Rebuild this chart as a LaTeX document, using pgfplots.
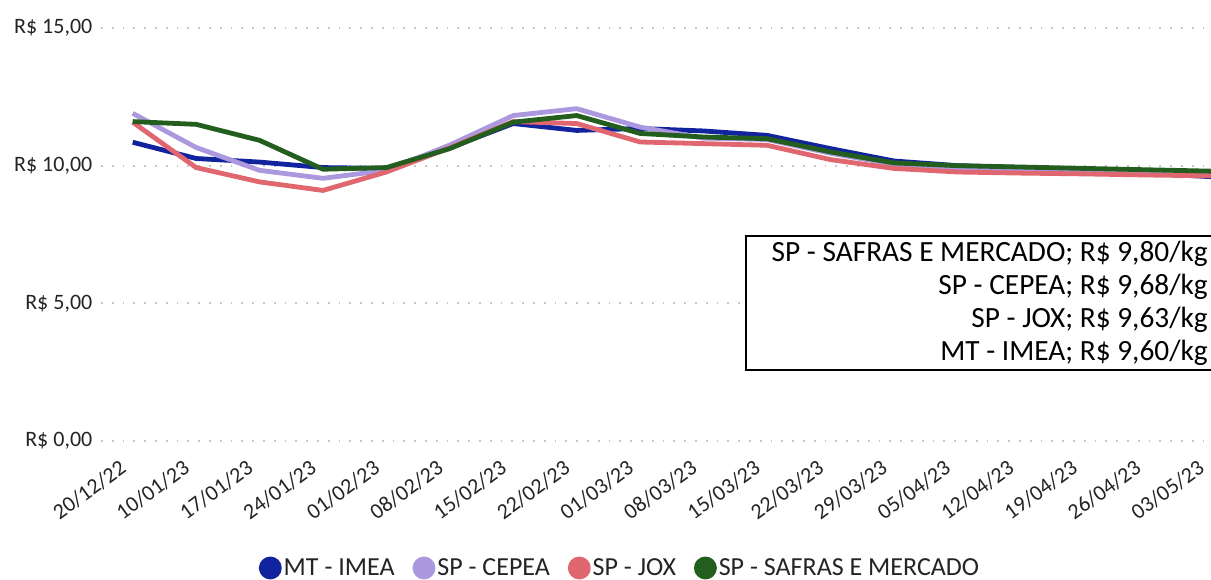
\documentclass[border=0pt]{standalone}
\usepackage{fontspec}
\setmainfont{Carlito}
\usepackage{pgfplots}
\pgfplotsset{compat=1.18}
\definecolor{imea}{HTML}{12239E}
\definecolor{cepea}{HTML}{AC98DE}
\definecolor{jox}{HTML}{E0676F}
\definecolor{safras}{HTML}{235E1E}
\definecolor{txt}{HTML}{252423}

\begin{document}
\begin{tikzpicture}
% 1 px of the reference = 0.75pt; axis box lower left sits at (0,0)
\useasboundingbox (-75.75pt,-104.25pt) rectangle (832.5pt,330.75pt);
\begin{axis}[
  scale only axis,
  width=832.5pt, height=309.75pt,
  xmin=-0.5, xmax=17, ymin=0, ymax=15,
  axis line style={draw=none},
  major tick length=0pt,
  ytick={0,5,10,15},
  yticklabels={{R\$ 0,00}, {R\$ 5,00}, {R\$ 10,00}, {R\$ 15,00}},
  xtick={0,...,17},
  xticklabels={20/12/22,10/01/23,17/01/23,24/01/23,01/02/23,08/02/23,15/02/23,22/02/23,
               01/03/23,08/03/23,15/03/23,22/03/23,29/03/23,05/04/23,12/04/23,19/04/23,
               26/04/23,03/05/23},
  yticklabel style={font=\fontsize{16.5}{18}\selectfont, text=txt, xshift=-3pt},
  xticklabel style={font=\fontsize{16.5}{18}\selectfont, text=txt, rotate=36,
                    anchor=north east, xshift=-13pt, yshift=-1pt},
  ymajorgrids,
  grid style={gray!45, line width=1.3pt, dash pattern=on 1.3pt off 6.8pt},
  every axis plot/.append style={line width=3.6pt, line join=round},
  legend columns=-1,
  legend image code/.code={\fill[#1] (5pt,0pt) circle (6.75pt);},
  legend style={at={(0.4676,-0.3075)}, anchor=center, draw=none,
                font=\fontsize{19.5}{21}\selectfont, text=txt,
                nodes={inner xsep=1.5pt},
                /tikz/every even column/.append style={column sep=12pt}},
]
\addplot[imea] coordinates {
  (0,10.85) (1,10.26) (2,10.13) (3,9.93) (4,9.90) (5,10.65) (6,11.53) (7,11.28)
  (8,11.35) (9,11.26) (10,11.10) (11,10.62) (12,10.17) (13,10.00) (14,9.93)
  (15,9.85) (16,9.72) (17,9.60)
};
\addlegendentry{MT - IMEA}
\addplot[cepea] coordinates {
  (0,11.90) (1,10.66) (2,9.83) (3,9.54) (4,9.83) (5,10.75) (6,11.82) (7,12.07)
  (8,11.40) (9,11.00) (10,10.95) (11,10.45) (12,10.05) (13,9.90) (14,9.82)
  (15,9.78) (16,9.72) (17,9.68)
};
\addlegendentry{SP - CEPEA}
\addplot[jox] coordinates {
  (0,11.58) (1,9.93) (2,9.41) (3,9.10) (4,9.77) (5,10.65) (6,11.60) (7,11.53)
  (8,10.86) (9,10.80) (10,10.74) (11,10.22) (12,9.90) (13,9.77) (14,9.73)
  (15,9.70) (16,9.66) (17,9.63)
};
\addlegendentry{SP - JOX}
\addplot[safras] coordinates {
  (0,11.60) (1,11.50) (2,10.92) (3,9.87) (4,9.93) (5,10.62) (6,11.58) (7,11.82)
  (8,11.17) (9,11.04) (10,10.98) (11,10.50) (12,10.10) (13,10.00) (14,9.95)
  (15,9.90) (16,9.85) (17,9.80)
};
\addlegendentry{SP - SAFRAS E MERCADO}
\end{axis}
\fill[white] (483.75pt,53.25pt) rectangle (836pt,153.75pt);
\draw[line width=2pt] (483.75pt,53.25pt) rectangle (836pt,153.75pt);
\node[anchor=east, align=right, inner sep=0pt, font=\fontsize{22}{24.75}\selectfont]
  at (830.25pt,103.5pt)
  {SP - SAFRAS E MERCADO; R\$ 9,80/kg\\SP - CEPEA; R\$ 9,68/kg\\SP - JOX; R\$ 9,63/kg\\MT - IMEA; R\$ 9,60/kg};
\end{tikzpicture}
\end{document}
